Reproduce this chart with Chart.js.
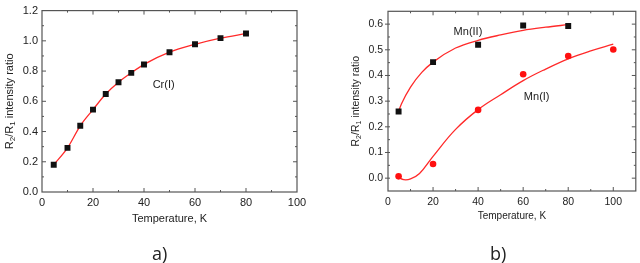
<!DOCTYPE html>
<html>
<head>
<meta charset="utf-8">
<script src="https://cdn.jsdelivr.net/npm/chart.js@4.4.0/dist/chart.umd.min.js"></script>
<style>
html, body { margin: 0; padding: 0; background: #fff; }
#wrap { position: relative; width: 640px; height: 263px; overflow: hidden; }
.panel { position: absolute; top: 0; width: 320px; height: 263px; }
.tag { position: absolute; top: 241px; font: 18px "Open Sans", sans-serif; color: #222; }
</style>
</head>
<body>
<div id="wrap">
  <div class="panel" style="left:0"><canvas id="chartA"></canvas></div>
  <div class="panel" style="left:320px"><canvas id="chartB"></canvas></div>
  <div class="tag" style="left:152px">a)</div>
  <div class="tag" style="left:490px">b)</div>
</div>
<script>
'use strict'

// panel a) Cr(I)
var crTemp  = [4.6, 10, 15, 20, 25, 30, 35, 40, 50, 60, 70, 80];
var crRatio = [0.18, 0.292, 0.438, 0.545, 0.648, 0.726, 0.788, 0.844, 0.925, 0.977, 1.018, 1.048];
var xTicksA = [0, 20, 40, 60, 80, 100];
var yTicksA = [0.0, 0.2, 0.4, 0.6, 0.8, 1.0, 1.2];

// panel b) Mn(II) and Mn(I)
var mn2Temp  = [4.7, 20, 40, 60, 80];
var mn2Ratio = [0.26, 0.452, 0.52, 0.595, 0.593];
var mn1Temp  = [4.7, 20, 40, 60, 80, 100];
var mn1Ratio = [0.007, 0.055, 0.266, 0.405, 0.476, 0.501];
// fitted curves
var mn2FitTemp  = [4.7, 6, 10, 15, 20, 30, 40, 50, 60, 70, 80];
var mn2FitRatio = [0.26, 0.29, 0.355, 0.412, 0.452, 0.507, 0.537, 0.558, 0.576, 0.588, 0.598];
var mn1FitTemp  = [4.7, 7, 10, 14, 20, 30, 40, 50, 60, 70, 80, 90, 100];
var mn1FitRatio = [0.003, -0.006, -0.003, 0.018, 0.085, 0.19, 0.267, 0.325, 0.38, 0.425, 0.465, 0.496, 0.522];
var xTicksB = [0, 20, 40, 60, 80, 100];
var yTicksB = [0.0, 0.1, 0.2, 0.3, 0.4, 0.5, 0.6];

var RED = '#ff2a2a';
var FRAME = '#555555';
var FONT = '"Liberation Sans", Arial';

function pts(xs, ys) {
    var out = [];
    for (var i = 0; i < xs.length; i++) out.push({x: xs[i], y: ys[i]});
    return out;
}

// frame, inward ticks, text labels and the y title with subscripts
var framePlugin = {
    id: 'frame',
    afterDraw: function(chart, args, o) {
        var ctx = chart.ctx, a = chart.chartArea;
        var sx = chart.scales.x, sy = chart.scales.y;
        ctx.save();
        ctx.strokeStyle = FRAME;
        ctx.lineWidth = 1.2;
        ctx.strokeRect(a.left, a.top, a.right - a.left, a.bottom - a.top);
        ctx.lineWidth = 1;
        ctx.beginPath();
        var n = Math.round((sx.max - sx.min) / o.xMinor);
        for (var i = 0; i <= n; i++) {
            var v = sx.min + i * o.xMinor;
            var px = sx.getPixelForValue(v);
            var len = (Math.round(v / o.xMinor) % 2 === 0) ? 4 : 2;
            if (px <= a.left + 1 || px >= a.right - 1) continue;
            ctx.moveTo(px, a.bottom); ctx.lineTo(px, a.bottom - len);
            ctx.moveTo(px, a.top); ctx.lineTo(px, a.top + len);
        }
        var m = Math.round((o.yTop - o.yStart) / o.yMinor);
        for (var j = 0; j <= m; j++) {
            var w = o.yStart + j * o.yMinor;
            var py = sy.getPixelForValue(w);
            var major = (Math.abs(Math.round(w / o.yMinor)) % 2 === 0);
            var l2 = major ? 4 : 2;
            if (py <= a.top + 1 || py >= a.bottom - 1) continue;
            if (major && o.outLeft) { ctx.moveTo(a.left + 2, py); ctx.lineTo(a.left - 3, py); }
            else { ctx.moveTo(a.left, py); ctx.lineTo(a.left + l2, py); }
            ctx.moveTo(a.right, py); ctx.lineTo(a.right - l2, py);
        }
        ctx.stroke();

        // curve labels
        ctx.fillStyle = '#222';
        ctx.font = o.labelFont;
        ctx.textAlign = 'center';
        ctx.textBaseline = 'middle';
        o.labels.forEach(function(lb) {
            ctx.fillText(lb.text, sx.getPixelForValue(lb.x), sy.getPixelForValue(lb.y));
        });

        // y axis title: R2/R1 intensity ratio
        var big = o.titleSize, small = Math.round(o.titleSize * 0.7);
        var parts = [['R', big, 0], ['2', small, 3], ['/R', big, 0], ['1', small, 3], [' intensity ratio', big, 0]];
        var total = 0;
        parts.forEach(function(p) { ctx.font = p[1] + 'px ' + FONT; total += ctx.measureText(p[0]).width; });
        ctx.translate(o.titleX, (a.top + a.bottom) / 2);
        ctx.rotate(-Math.PI / 2);
        ctx.textAlign = 'left';
        ctx.textBaseline = 'middle';
        var cx = -total / 2;
        parts.forEach(function(p) {
            ctx.font = p[1] + 'px ' + FONT;
            ctx.fillText(p[0], cx, p[2]);
            cx += ctx.measureText(p[0]).width;
        });
        ctx.restore();
    }
};

function makeOptions(cfg) {
    return {
        responsive: true,
        maintainAspectRatio: false,
        animation: false,
        layout: { padding: cfg.padding },
        plugins: {
            legend: { display: false },
            tooltip: { enabled: false },
            frame: cfg.frame
        },
        scales: {
            x: {
                type: 'linear',
                min: cfg.xMin, max: cfg.xMax,
                grid: { display: false, drawTicks: false },
                border: { display: false },
                afterBuildTicks: function(s) { s.ticks = cfg.xTicks.map(function(v) { return {value: v}; }); },
                afterFit: function(s) { s.height = cfg.xHeight; },
                ticks: { color: '#222', padding: cfg.xPad, maxRotation: 0, font: { family: FONT, size: cfg.tickSize } },
                title: { display: true, text: 'Temperature, K', color: '#222', padding: 0, font: { family: FONT, size: cfg.titleSize } }
            },
            y: {
                type: 'linear',
                min: cfg.yMin, max: cfg.yMax,
                grid: { display: false, drawTicks: false },
                border: { display: false },
                afterBuildTicks: function(s) { s.ticks = cfg.yTicks.map(function(v) { return {value: v}; }); },
                afterFit: function(s) { s.width = cfg.yWidth; },
                ticks: { color: '#222', padding: cfg.yPad, font: { family: FONT, size: cfg.tickSize },
                         callback: function(v) { return Number(v).toFixed(1); } }
            }
        }
    };
}

new Chart(document.getElementById('chartA'), {
    type: 'scatter',
    data: {
        datasets: [{
            data: pts(crTemp, crRatio),
            showLine: true,
            cubicInterpolationMode: 'monotone',
            borderColor: RED,
            borderWidth: 1.3,
            pointStyle: 'rect',
            pointRadius: 4.2,
            pointBackgroundColor: '#111',
            pointBorderColor: '#111',
            pointBorderWidth: 0
        }]
    },
    options: makeOptions({
        padding: { top: 6, right: 23, left: 0, bottom: 37 },
        xMin: 0, xMax: 100, yMin: 0, yMax: 1.2,
        xTicks: xTicksA, yTicks: yTicksA,
        xHeight: 34, yWidth: 42, yPad: 4, xPad: 4,
        tickSize: 11, titleSize: 11,
        frame: {
            xMinor: 10, yStart: 0, yTop: 1.2, yMinor: 0.1, outLeft: false,
            labelFont: '11px ' + FONT,
            labels: [{ text: 'Cr(I)', x: 47.7, y: 0.708 }],
            titleX: 10, titleSize: 11
        }
    }),
    plugins: [framePlugin]
});

new Chart(document.getElementById('chartB'), {
    type: 'scatter',
    data: {
        datasets: [{
            data: pts(mn2FitTemp, mn2FitRatio),
            showLine: true, cubicInterpolationMode: 'monotone',
            borderColor: RED, borderWidth: 1.3, pointRadius: 0, order: 2
        }, {
            data: pts(mn1FitTemp, mn1FitRatio),
            showLine: true, tension: 0.4,
            borderColor: RED, borderWidth: 1.3, pointRadius: 0, order: 2
        }, {
            data: pts(mn2Temp, mn2Ratio),
            pointStyle: 'rect', pointRadius: 4.2,
            pointBackgroundColor: '#111', pointBorderColor: '#111', pointBorderWidth: 0, order: 1
        }, {
            data: pts(mn1Temp, mn1Ratio),
            pointStyle: 'circle', pointRadius: 3.3,
            pointBackgroundColor: '#ff1010', pointBorderColor: '#ff1010', pointBorderWidth: 0, order: 1
        }]
    },
    options: makeOptions({
        padding: { top: 5, right: 2, left: 0, bottom: 41 },
        xMin: 0, xMax: 110, yMin: -0.05, yMax: 0.65,
        xTicks: xTicksB, yTicks: yTicksB,
        xHeight: 31, yWidth: 68, yPad: 5, xPad: 5,
        tickSize: 10.5, titleSize: 10,
        frame: {
            xMinor: 10, yStart: -0.05, yTop: 0.65, yMinor: 0.05, outLeft: true,
            labelFont: '11px ' + FONT,
            labels: [{ text: 'Mn(II)', x: 35.5, y: 0.57 }, { text: 'Mn(I)', x: 66, y: 0.317 }],
            titleX: 36, titleSize: 10.5
        }
    }),
    plugins: [framePlugin]
});
</script>
</body>
</html>
